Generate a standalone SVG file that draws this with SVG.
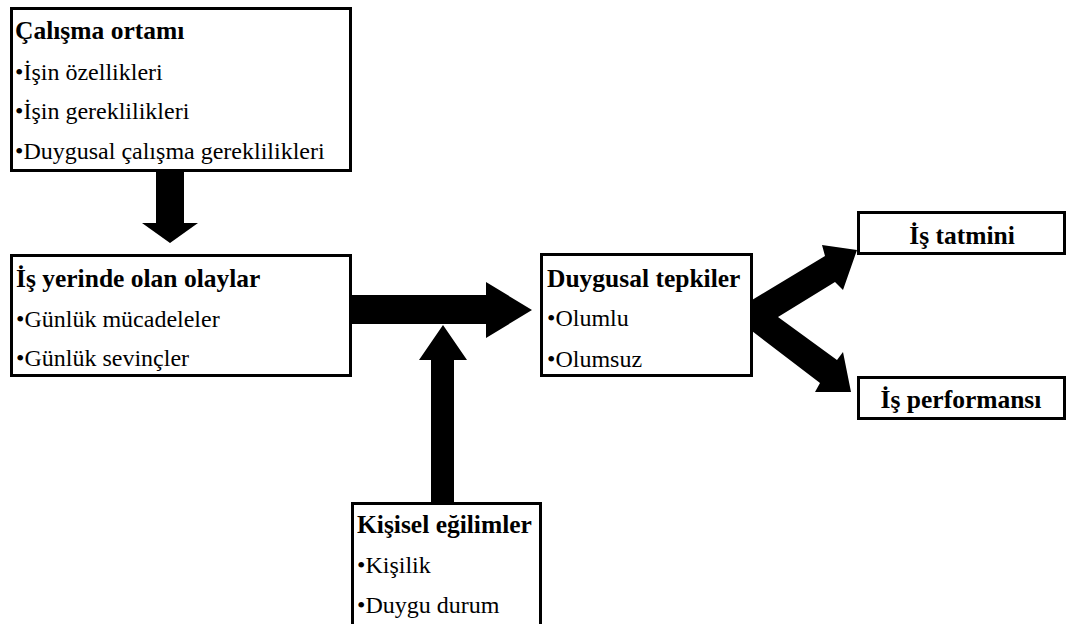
<svg xmlns="http://www.w3.org/2000/svg" width="1070" height="624" viewBox="0 0 1070 624">
  <style>
    .box { fill: #ffffff; stroke: #000000; stroke-width: 3; }
    .arrow { fill: #000000; stroke: none; }
    text { font-family: "Liberation Serif", "Times New Roman", serif; fill: #000000; }
    .title { font-size: 25.5px; font-weight: bold; }
    .item { font-size: 24px; }
  </style>
  <rect width="1070" height="624" fill="#ffffff"/>

  <!-- connectors -->
  <g id="connectors">
    <polygon class="arrow" points="156,172 184,172 184,223 198,223 170,243 142,223 156,223"/>
    <polygon class="arrow" points="352,295 486,295 486,282 532,310 486,338 486,324 352,324"/>
    <polygon class="arrow" points="431,502 431,360 419,360 443,325 467,360 454,360 454,502"/>
    <polygon class="arrow" points="752,300 825,256 822,245 857,250 843,290 835,282 778,317 837,360 843,352 851,392 815,392 820,383 752,331"/>
  </g>

  <g id="calisma-ortami">
    <rect class="box" x="11.5" y="8.5" width="339" height="162"/>
    <text class="title" x="15" y="39">Çalışma ortamı</text>
    <text class="item" x="15" y="80">•İşin özellikleri</text>
    <text class="item" x="15" y="119">•İşin gereklilikleri</text>
    <text class="item" x="15" y="159">•Duygusal çalışma gereklilikleri</text>
  </g>

  <g id="is-yerinde-olaylar">
    <rect class="box" x="11.5" y="255.5" width="339" height="120"/>
    <text class="title" x="16" y="287">İş yerinde olan olaylar</text>
    <text class="item" x="16" y="327">•Günlük mücadeleler</text>
    <text class="item" x="16" y="366">•Günlük sevinçler</text>
  </g>

  <g id="duygusal-tepkiler">
    <rect class="box" x="541.5" y="254.5" width="210" height="121"/>
    <text class="title" x="547" y="287">Duygusal tepkiler</text>
    <text class="item" x="547" y="326">•Olumlu</text>
    <text class="item" x="547" y="367">•Olumsuz</text>
  </g>

  <g id="is-tatmini">
    <rect class="box" x="858.5" y="212.5" width="206" height="41"/>
    <text class="title" x="962" y="244" text-anchor="middle">İş tatmini</text>
  </g>

  <g id="is-performansi">
    <rect class="box" x="858.5" y="377.5" width="206" height="41"/>
    <text class="title" x="961" y="408" text-anchor="middle">İş performansı</text>
  </g>

  <g id="kisisel-egilimler">
    <rect class="box" x="352.5" y="503.5" width="188" height="123"/>
    <text class="title" x="357" y="533">Kişisel eğilimler</text>
    <text class="item" x="357" y="573">•Kişilik</text>
    <text class="item" x="357" y="613">•Duygu durum</text>
  </g>
</svg>
